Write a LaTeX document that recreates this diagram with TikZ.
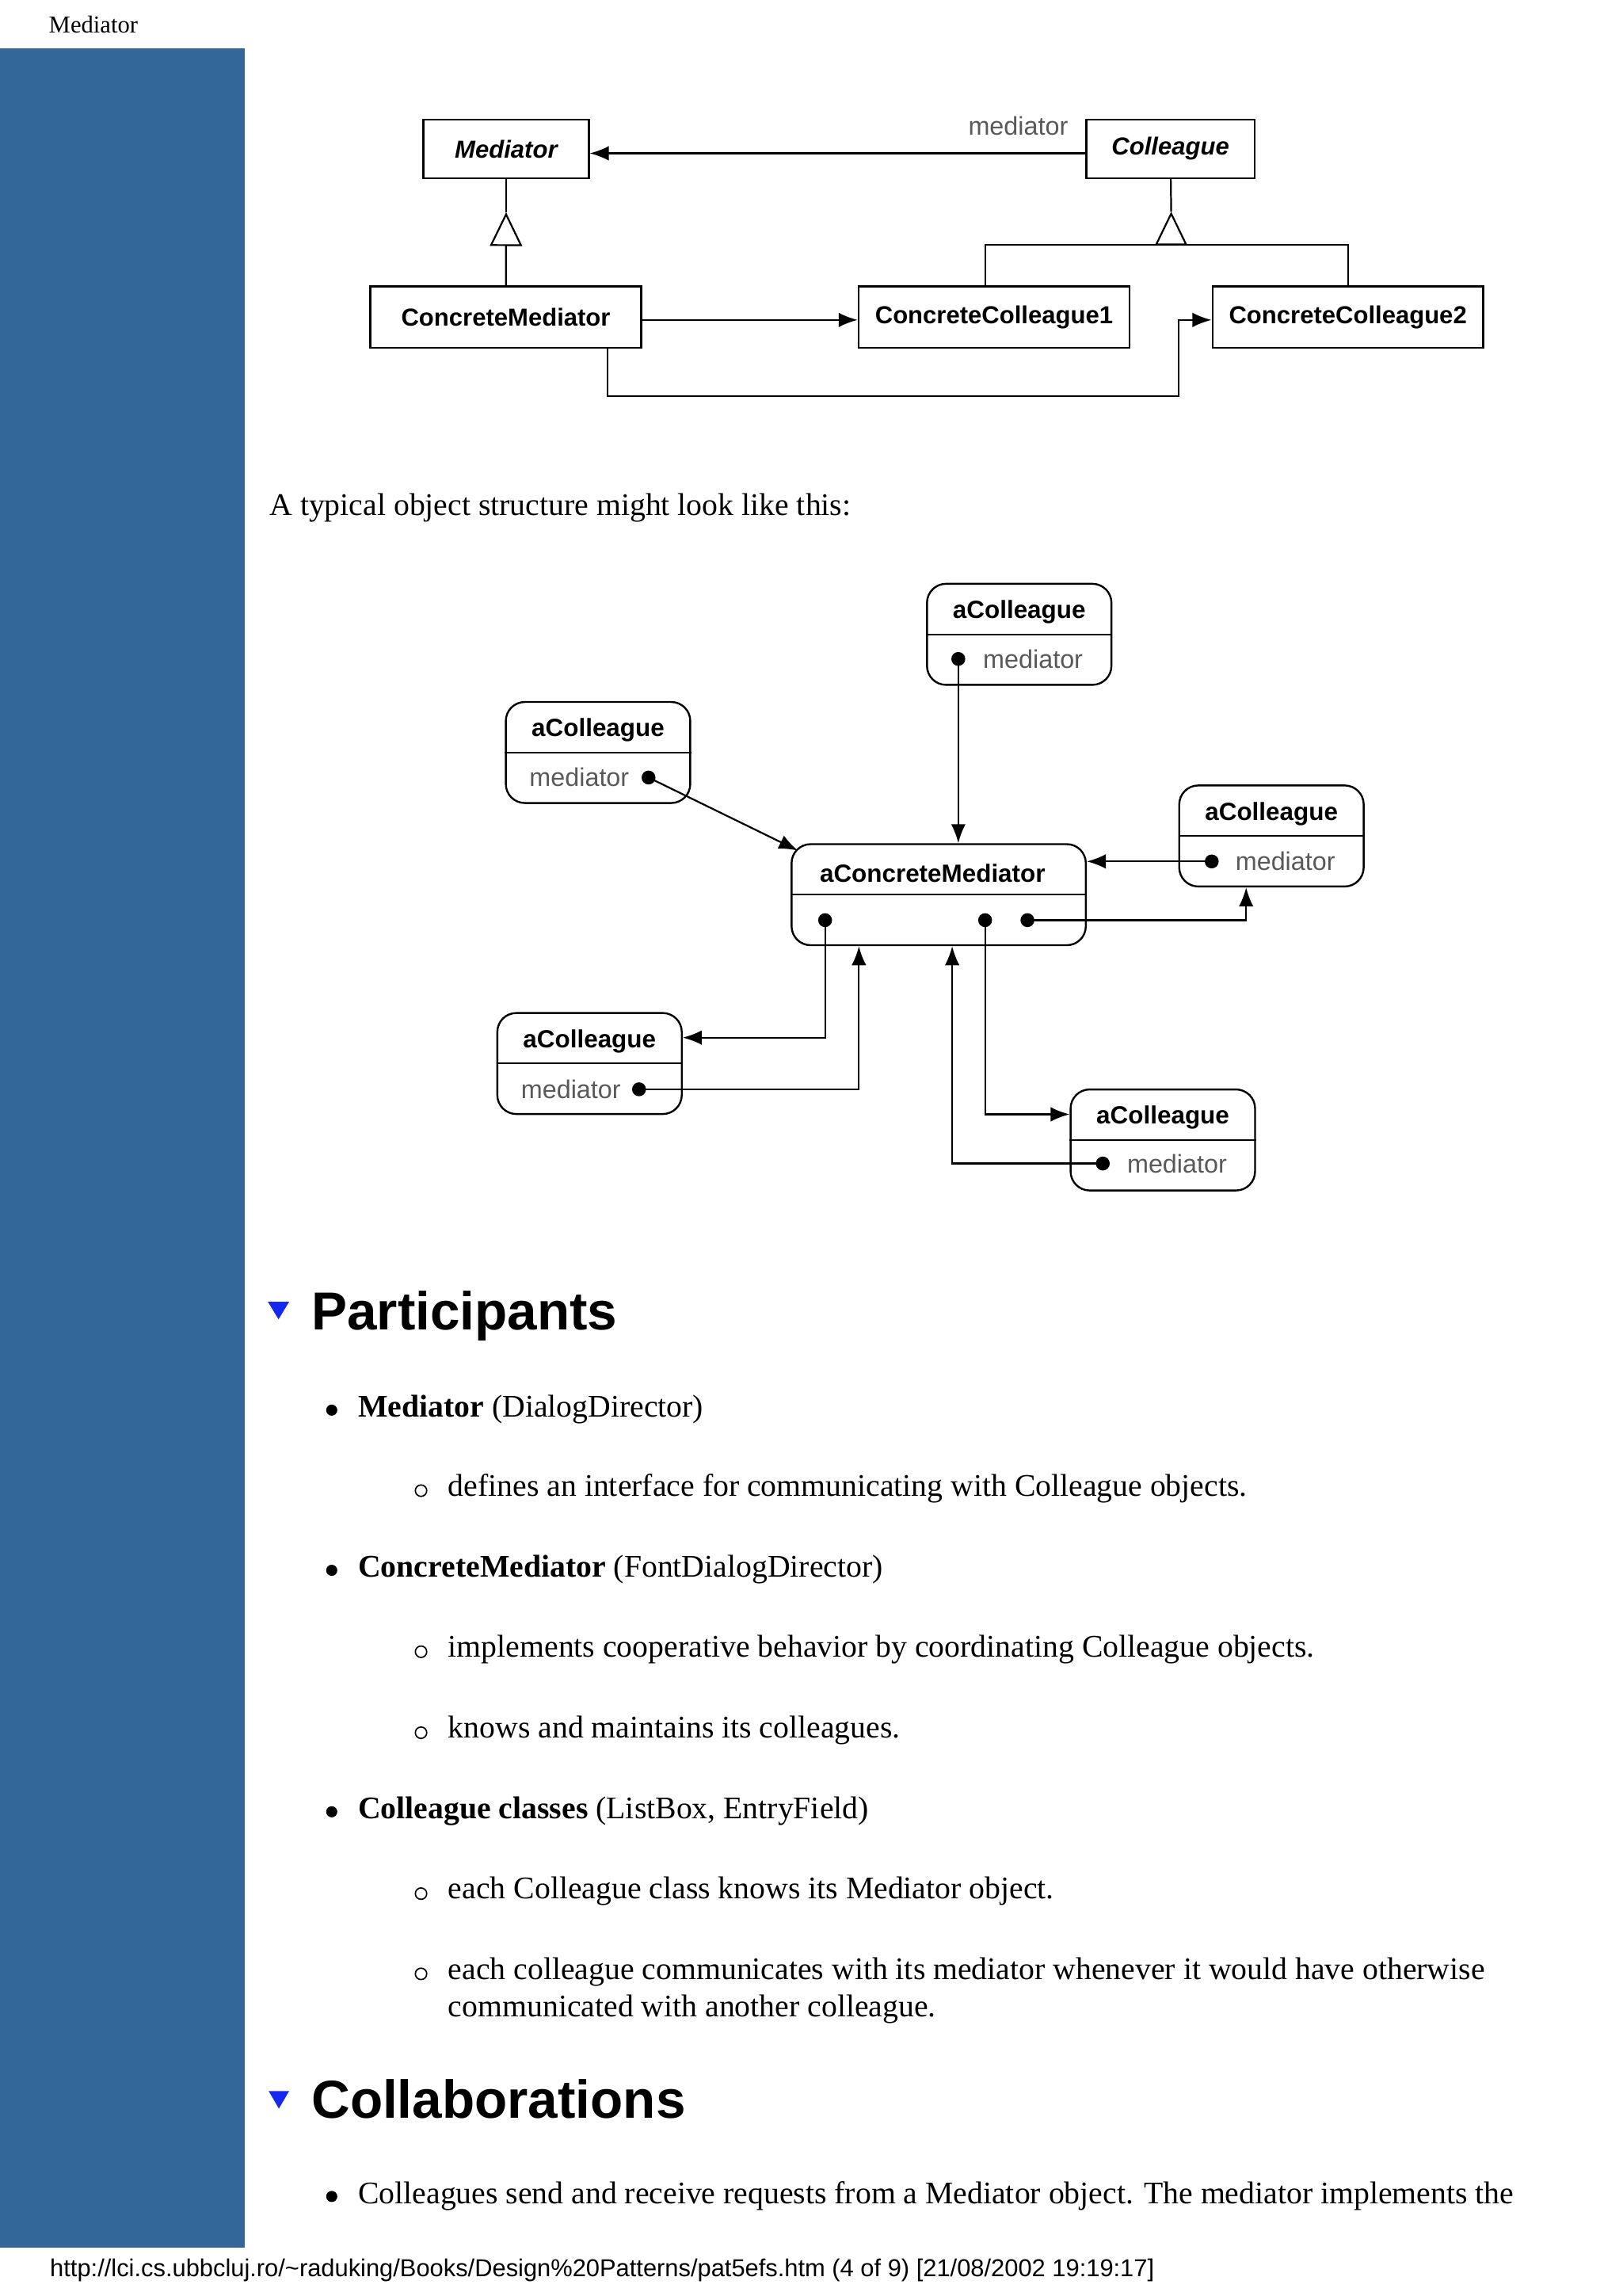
\documentclass[tikz,border=0pt]{standalone}
\usepackage{fontspec}
\setmainfont{Liberation Serif}
\setsansfont{Liberation Sans}
\usetikzlibrary{arrows.meta}
\definecolor{sidebar}{HTML}{336699}
\definecolor{headblue}{RGB}{20,40,240}
\tikzset{
    class/.style={draw, line width=1.3pt, minimum height=40pt, inner sep=0pt, font=\sffamily\bfseries\fontsize{16.8}{18}\selectfont},
    abstract/.style={class, font=\sffamily\bfseries\itshape\fontsize{16.8}{18}\selectfont},
    object/.style={draw, line width=1.3pt, rounded corners=13pt, minimum width=126pt, minimum height=69pt, inner sep=0pt},
    objname/.style={inner sep=0pt, font=\sffamily\bfseries\fontsize{17}{19}\selectfont},
    field/.style={inner sep=0pt, text=black!65, font=\sffamily\fontsize{17.5}{19}\selectfont},
    mdot/.style={circle, fill, inner sep=0pt, minimum size=9.5pt},
    link/.style={line width=1.2pt, -{Latex[length=13pt,width=10pt]}},
    inherit/.style={line width=1.2pt, -{Triangle[open,length=23pt,width=22pt]}},
    plain/.style={line width=1.2pt},
    body/.style={inner sep=0pt, anchor=base west, font=\fontsize{21.5}{25.7}\selectfont},
    heading/.style={inner sep=0pt, anchor=base west, font=\sffamily\bfseries\fontsize{36.5}{40}\selectfont},
}
\begin{document}
\begin{tikzpicture}[x=1pt, y=-1pt]
        \fill[white] (0,0) rectangle (1108.1,1568);
        \fill[sidebar] (0,33) rectangle (167,1535);
        \node[inner sep=0pt, anchor=base west, font=\fontsize{16.6}{18}\selectfont] (pagetitle) at (33.2,22.4) {Mediator};

        % class structure
        \begin{scope}[every node/.style={class}]
            \node[abstract, minimum width=113pt] (Mediator) at (345.7,101.7) {Mediator};
            \node[abstract, minimum width=115pt] (Colleague) at (799.5,101.7) {Colleague};
            \node[minimum width=185pt, minimum height=42pt] (CMediator) at (345.5,216.5) {ConcreteMediator};
            \node[minimum width=185pt, minimum height=42pt] (CColleague1) at (679,216.5) {ConcreteColleague1};
            \node[minimum width=185pt, minimum height=42pt] (CColleague2) at (920.7,216.5) {ConcreteColleague2};
        \end{scope}
        \node[field] (medlabel) at (695.5,86) {mediator};
        \coordinate (mtip) at (345.7,145);
        \coordinate (ctip) at (800,144.5);
        \coordinate (cbase) at (800,167);
        \coordinate (bar1) at (673,167);
        \coordinate (bar2) at (920.7,167);
        \coordinate (route) at (805,270.6);
        \draw[link] ([yshift=-3pt]Colleague.west) -- ([yshift=-3pt]Mediator.east);
        \draw[inherit] (CMediator) -- (mtip);
        \draw[plain] (mtip) -- (Mediator);
        \draw[plain] (bar1 |- CColleague1.north) -- (bar1) -- (bar2) -- (CColleague2);
        \draw[inherit] (cbase) -- (ctip);
        \draw[plain] (ctip) -- (Colleague);
        \draw[link] ([yshift=-2pt]CMediator.east) -- ([yshift=-2pt]CColleague1.west);
        \draw[link] ([xshift=69.5pt]CMediator.south) |- (route) |- ([yshift=-2pt]CColleague2.west);

        \node[body] (intro) at (184,352) {A typical object structure might look like this:};

        % object structure
        \begin{scope}[every node/.style={object}]
            \node (T) at (696.2,433.2) {};
            \node (L) at (408.5,513.9) {};
            \node (R) at (868.5,570.9) {};
            \node[minimum width=201pt] (M) at (641.2,611) {};
            \node (LL) at (402.7,726.3) {};
            \node (LR) at (794.3,778.5) {};
        \end{scope}
        \foreach \o in {T,L,R,M,LL,LR}
            \draw[line width=1.2pt] (\o.west) -- (\o.east);
        \node[objname] (Tname) at (696.2,418) {aColleague};
        \node[objname] (Lname) at (408.5,498.5) {aColleague};
        \node[objname] (Rname) at (868.5,556) {aColleague};
        \node[objname] (Mname) at (637,596.5) {aConcreteMediator};
        \node[objname] (LLname) at (402.7,711.4) {aColleague};
        \node[objname] (LRname) at (794.3,763.3) {aColleague};
        \node[field] (Tfield) at (705.6,450) {mediator};
        \node[field] (Lfield) at (395.7,531) {mediator};
        \node[field] (Rfield) at (878,588.3) {mediator};
        \node[field] (LLfield) at (390,743.9) {mediator};
        \node[field] (LRfield) at (804,794.6) {mediator};
        \node[mdot] (Tdot) at (654.6,450) {};
        \node[mdot] (Ldot) at (443,531) {};
        \node[mdot] (Rdot) at (827.7,588.3) {};
        \node[mdot] (LLdot) at (436.5,743.9) {};
        \node[mdot] (LRdot) at (753.3,794.6) {};
        \node[mdot] (Mdot1) at (563.6,628.4) {};
        \node[mdot] (Mdot2) at (672.9,628.4) {};
        \node[mdot] (Mdot3) at (701.8,628.4) {};
        \draw[link] (Tdot.center) -- (Tdot |- M.north);
        \draw[link] (Ldot.center) -- ([shift={(5pt,-5pt)}]M.north west);
        \draw[link] (Rdot.center) -- (Rdot -| M.east);
        \draw[link] (Mdot3.center) -| ([xshift=-17.3pt]R.south);
        \draw[link] (Mdot1.center) |- ([yshift=17.7pt]LL.east);
        \draw[link] (LLdot.center) -| ([xshift=-54.5pt]M.south);
        \draw[link] (Mdot2.center) |- ([yshift=17.5pt]LR.west);
        \draw[link] (LRdot.center) -| ([xshift=9.2pt]M.south);

        % participants
        \fill[headblue] (183,889) -- (197.5,889) -- (190.25,901) -- cycle;
        \node[heading] (participants) at (212.6,908) {Participants};
        \foreach \y in {963,1072.4,1237.3}
            \fill (226.6,\y) circle (3.8);
        \foreach \y in {1018,1128,1183.3,1293.2,1348}
            \draw[line width=0.9pt] (287.6,\y) circle (3.9);
        \node[body] (mediator) at (244.5,967.8) {\textbf{Mediator} (DialogDirector)};
        \node[body] (mediatorA) at (306,1021.7) {defines an interface for communicating with Colleague objects.};
        \node[body] (cmediator) at (244.5,1077.2) {\textbf{ConcreteMediator} (FontDialogDirector)};
        \node[body] (cmediatorA) at (306,1131.6) {implements cooperative behavior by coordinating Colleague objects.};
        \node[body] (cmediatorB) at (306,1187) {knows and maintains its colleagues.};
        \node[body] (colleague) at (244.5,1242.1) {\textbf{Colleague classes} (ListBox, EntryField)};
        \node[body] (colleagueA) at (306,1296.9) {each Colleague class knows its Mediator object.};
        \node[body] (colleagueB) at (306,1351.7) {each colleague communicates with its mediator whenever it would have otherwise};
        \node[body] (colleagueC) at (306,1377.4) {communicated with another colleague.};

        % collaborations
        \fill[headblue] (183.5,1428) -- (197.5,1428) -- (190.5,1440) -- cycle;
        \node[heading] (collaborations) at (212.6,1446.7) {Collaborations};
        \fill (226.6,1500) circle (3.8);
        \node[body] (collabA) at (244.5,1504.8) {Colleagues send and receive requests from a Mediator object. The mediator implements the};

        \node[inner sep=0pt, anchor=base west, font=\sffamily\fontsize{16.7}{18}\selectfont] (footer) at (34,1554.5) {http://lci.cs.ubbcluj.ro/\textasciitilde raduking/Books/Design\%20Patterns/pat5efs.htm (4 of 9) [21/08/2002 19:19:17]};
\end{tikzpicture}
\end{document}
